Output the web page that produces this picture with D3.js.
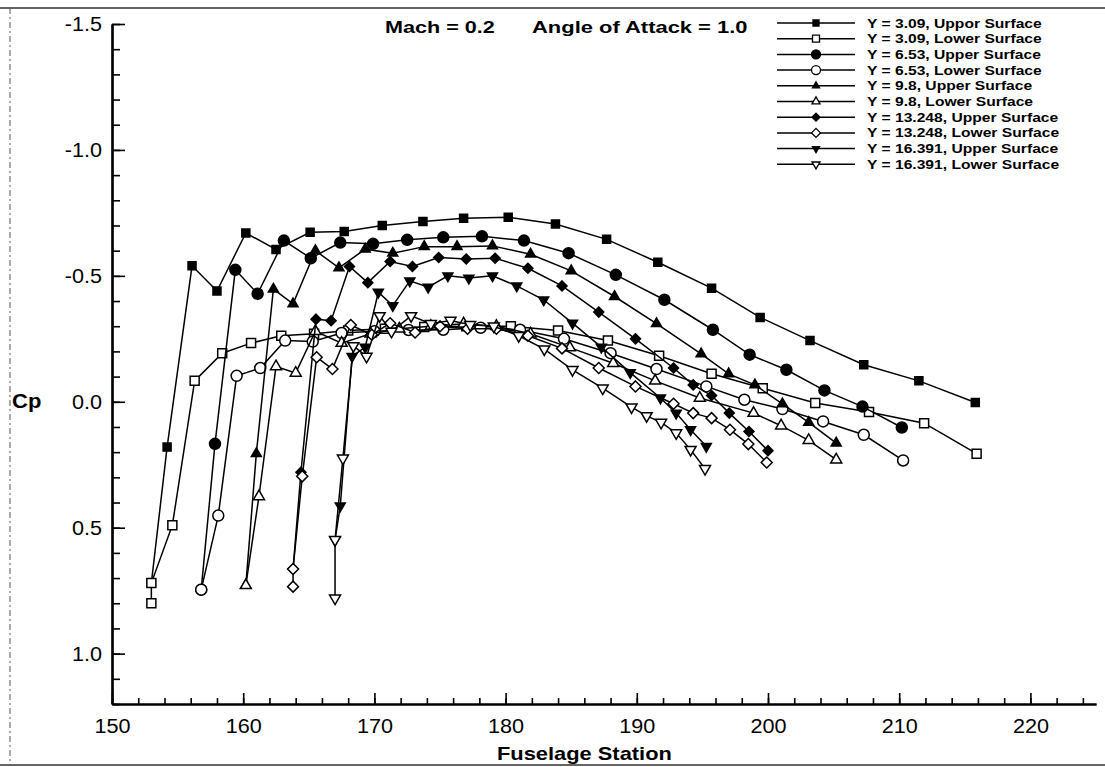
<!DOCTYPE html>
<html><head><meta charset="utf-8">
<script src="https://cdn.jsdelivr.net/npm/d3@7"></script>
<style>body{margin:0;background:#fff}svg{display:block}</style>
</head><body>
<svg id="c" width="1105" height="767"></svg>
<script>
// ---------- data ----------
const xTickValues = [150,160,170,180,190,200,210,220];
const yTickValues = [-1.5,-1.0,-0.5,0.0,0.5,1.0];
const titleParts = ["Mach = 0.2", "Angle of Attack = 1.0"];
const seriesLabels = [
  "Y = 3.09, Uppor Surface","Y = 3.09, Lower Surface",
  "Y = 6.53, Upper Surface","Y = 6.53, Lower Surface",
  "Y = 9.8, Upper Surface","Y = 9.8, Lower Surface",
  "Y = 13.248, Upper Surface","Y = 13.248, Lower Surface",
  "Y = 16.391, Upper Surface","Y = 16.391, Lower Surface"];

const y309Upper = [[153.0,0.72],[154.2,0.18],[156.1,-0.54],[158.0,-0.44],[160.2,-0.67],[162.5,-0.605],[165.1,-0.673],[167.7,-0.676],[170.6,-0.70],[173.7,-0.716],[176.8,-0.729],[180.2,-0.733],[183.8,-0.706],[187.7,-0.645],[191.6,-0.554],[195.7,-0.451],[199.4,-0.335],[203.2,-0.243],[207.3,-0.147],[211.5,-0.083],[215.8,0.003]];
const y309Lower = [[153.0,0.80],[153.0,0.72],[154.6,0.49],[156.3,-0.083],[158.4,-0.193],[160.6,-0.233],[162.9,-0.262],[165.4,-0.27],[168.0,-0.283],[170.8,-0.29],[173.8,-0.297],[177.0,-0.30],[180.4,-0.30],[184.0,-0.283],[187.8,-0.243],[191.7,-0.183],[195.7,-0.111],[199.6,-0.054],[203.6,0.005],[207.7,0.041],[211.9,0.085],[215.9,0.206]];
const y653Upper = [[156.8,0.746],[157.85,0.167],[159.4,-0.524],[161.1,-0.429],[163.1,-0.64],[165.15,-0.57],[167.4,-0.632],[169.9,-0.627],[172.5,-0.643],[175.25,-0.653],[178.2,-0.657],[181.4,-0.64],[184.8,-0.59],[188.4,-0.504],[192.1,-0.405],[195.8,-0.286],[198.6,-0.187],[201.4,-0.127],[204.3,-0.045],[207.2,0.019],[210.2,0.102]];
const y653Lower = [[156.8,0.746],[158.1,0.452],[159.5,-0.103],[161.3,-0.134],[163.2,-0.243],[165.3,-0.239],[167.5,-0.273],[170.0,-0.28],[172.6,-0.285],[175.25,-0.286],[178.1,-0.294],[181.1,-0.286],[184.45,-0.25],[188.0,-0.193],[191.5,-0.13],[195.3,-0.061],[198.2,-0.008],[201.1,0.029],[204.2,0.078],[207.3,0.131],[210.3,0.233]];
const y98Upper = [[160.2,0.729],[161.0,0.206],[162.3,-0.447],[163.8,-0.389],[165.5,-0.60],[167.3,-0.532],[169.3,-0.606],[171.4,-0.59],[173.8,-0.616],[176.3,-0.616],[179.0,-0.619],[181.9,-0.586],[185.0,-0.52],[188.3,-0.418],[191.5,-0.31],[194.9,-0.19],[197.0,-0.111],[199.0,-0.067],[201.1,0.008],[203.1,0.082],[205.2,0.164]];
const y98Lower = [[160.2,0.729],[161.2,0.376],[162.5,-0.14],[164.0,-0.114],[165.5,-0.28],[167.5,-0.233],[169.7,-0.27],[171.9,-0.29],[174.3,-0.30],[176.8,-0.31],[179.3,-0.30],[181.9,-0.27],[184.9,-0.215],[188.2,-0.153],[191.4,-0.083],[194.8,-0.015],[198.9,0.045],[201.0,0.095],[203.1,0.153],[205.2,0.23]];
const y13248Upper = [[163.8,0.664],[164.4,0.28],[165.55,-0.328],[166.7,-0.322],[168.1,-0.537],[169.5,-0.473],[171.2,-0.557],[172.9,-0.537],[174.9,-0.573],[177.0,-0.567],[179.2,-0.57],[181.7,-0.53],[184.3,-0.46],[187.1,-0.356],[189.9,-0.25],[192.8,-0.134],[194.3,-0.067],[195.7,-0.025],[197.05,0.045],[198.55,0.118],[200.0,0.194]];
const y13248Lower = [[163.8,0.734],[163.8,0.664],[164.5,0.296],[165.6,-0.177],[166.8,-0.13],[168.2,-0.305],[169.8,-0.266],[171.2,-0.312],[173.1,-0.275],[175.0,-0.30],[177.1,-0.29],[179.3,-0.29],[181.7,-0.262],[184.3,-0.212],[187.1,-0.134],[189.9,-0.061],[192.8,0.008],[194.3,0.045],[195.7,0.065],[197.1,0.111],[198.5,0.168],[199.9,0.241]];
const y16391Upper = [[167.0,0.548],[167.4,0.413],[168.3,-0.18],[169.3,-0.217],[170.3,-0.435],[171.4,-0.382],[172.7,-0.48],[174.1,-0.455],[175.6,-0.50],[177.2,-0.491],[179.0,-0.50],[180.85,-0.46],[182.9,-0.405],[185.1,-0.312],[187.3,-0.217],[189.5,-0.116],[191.8,-0.015],[193.0,0.045],[194.1,0.111],[195.3,0.177]];
const y16391Lower = [[167.0,0.78],[167.0,0.548],[167.6,0.224],[168.4,-0.222],[169.4,-0.18],[170.4,-0.341],[171.3,-0.279],[172.8,-0.341],[174.3,-0.31],[175.8,-0.323],[177.3,-0.306],[179.1,-0.30],[181.0,-0.262],[182.95,-0.209],[185.1,-0.127],[187.4,-0.054],[189.6,0.021],[190.75,0.056],[191.85,0.082],[193.0,0.124],[194.1,0.19],[195.2,0.266]];

const seriesData = [y309Upper,y309Lower,y653Upper,y653Lower,y98Upper,y98Lower,y13248Upper,y13248Lower,y16391Upper,y16391Lower];

// ---------- symbols ----------
const symSquare = {draw(c,s){const h=s/2;c.moveTo(-h,-h);c.lineTo(h,-h);c.lineTo(h,h);c.lineTo(-h,h);c.closePath();}};
const symCircle = {draw(c,s){const r=s/2;c.moveTo(r,0);c.arc(0,0,r,0,2*Math.PI);c.closePath();}};
const symTriUp = {draw(c,s){const h=s*0.866;c.moveTo(0,-2*h/3);c.lineTo(s/2,h/3);c.lineTo(-s/2,h/3);c.closePath();}};
const symTriDown = {draw(c,s){const h=s*0.866;c.moveTo(0,2*h/3);c.lineTo(s/2,-h/3);c.lineTo(-s/2,-h/3);c.closePath();}};
const symDiamond = {draw(c,s){const h=s/2;c.moveTo(0,-h);c.lineTo(h,0);c.lineTo(0,h);c.lineTo(-h,0);c.closePath();}};

const styles = [
  {sym:symSquare,size:8,fill:"#000"},{sym:symSquare,size:9,fill:"#fff"},
  {sym:symCircle,size:11,fill:"#000"},{sym:symCircle,size:11,fill:"#fff"},
  {sym:symTriUp,size:10,fill:"#000"},{sym:symTriUp,size:11,fill:"#fff"},
  {sym:symDiamond,size:10,fill:"#000"},{sym:symDiamond,size:11,fill:"#fff"},
  {sym:symTriDown,size:10,fill:"#000"},{sym:symTriDown,size:11,fill:"#fff"}];
const legendSizes = [6,7,9,9,7,8,8,9,7,8];

// ---------- layout ----------
const svg = d3.select("#c");
const font = "'Liberation Sans', Arial, Helvetica, sans-serif";
const x = d3.scaleLinear().domain([150,225]).range([112,1096]);
const y = d3.scaleLinear().domain([-1.5,1.2]).range([24,704]);
const widen = (sel, f) => sel.each(function(){
  const w = this.getComputedTextLength();
  d3.select(this).attr("textLength", w*f).attr("lengthAdjust","spacingAndGlyphs");
});

// page border (scanned frame)
svg.append("line").attr("x1",0).attr("x2",1105).attr("y1",8).attr("y2",8).attr("stroke","#333").attr("stroke-width",1.5);
svg.append("line").attr("x1",0).attr("x2",1105).attr("y1",765).attr("y2",765).attr("stroke","#333").attr("stroke-width",1.5);
svg.append("line").attr("x1",10).attr("x2",10).attr("y1",8).attr("y2",765).attr("stroke","#555").attr("stroke-width",1).attr("stroke-dasharray","6,3,2,3");

// axes
const fmtY = v => v.toFixed(1);
const gx = svg.append("g").attr("transform","translate(0,704)");
gx.call(d3.axisBottom(x).tickValues(d3.range(150,225.1,2)).tickSize(-6).tickSizeOuter(0).tickFormat(""));
gx.append("g").call(d3.axisBottom(x).tickValues(xTickValues).tickSize(-11).tickSizeOuter(0).tickPadding(15).tickFormat(d3.format("d")));
const gy = svg.append("g").attr("transform","translate(112,0)");
gy.call(d3.axisLeft(y).tickValues(d3.range(-15,12.1,1).map(v=>v/10)).tickSize(-8).tickSizeOuter(0).tickFormat(""));
gy.append("g").call(d3.axisLeft(y).tickValues(yTickValues).tickSize(-13).tickSizeOuter(0).tickPadding(10).tickFormat(fmtY));
svg.selectAll(".domain").attr("stroke","#000").attr("stroke-width",2.2);
svg.selectAll(".tick line").attr("stroke","#000").attr("stroke-width",1.6);
svg.selectAll(".tick text").attr("font-family",font).attr("font-size",20).attr("fill","#000");
widen(svg.selectAll(".tick text"), 1.08);

// axis titles
svg.append("text").attr("x",497).attr("y",760).attr("font-family",font)
  .attr("font-weight","bold").attr("font-size",19).text("Fuselage Station").call(widen, 1.15);
svg.append("text").attr("x",12).attr("y",408).attr("font-family",font)
  .attr("font-weight","bold").attr("font-size",20).text("Cp").call(widen, 1.1);
// title
svg.append("text").attr("x",385).attr("y",33).attr("font-family",font).attr("font-weight","bold").attr("font-size",17).text(titleParts[0]).call(widen, 1.27);
svg.append("text").attr("x",532).attr("y",33).attr("font-family",font).attr("font-weight","bold").attr("font-size",17).text(titleParts[1]).call(widen, 1.29);

// series
const line = d3.line().x(d=>x(d[0])).y(d=>y(d[1]));
const plot = svg.append("g");
seriesData.forEach((data,i)=>{
  const st = styles[i];
  const g = plot.append("g");
  g.append("path").datum(data).attr("d",line).attr("fill","none").attr("stroke","#000").attr("stroke-width",1.5);
  g.selectAll("path.m").data(data).join("path").attr("class","m")
    .attr("transform",d=>`translate(${x(d[0])},${y(d[1])})`)
    .attr("d",d3.symbol().type(st.sym).size(st.size))
    .attr("fill",st.fill).attr("stroke","#000").attr("stroke-width",1.5);
});

// legend
const lg = svg.append("g");
seriesLabels.forEach((lab,i)=>{
  const yy = 23 + i*15.7;
  const st = styles[i];
  lg.append("line").attr("x1",777).attr("x2",855).attr("y1",yy).attr("y2",yy).attr("stroke","#000").attr("stroke-width",1.5);
  lg.append("path").attr("transform",`translate(816,${yy})`).attr("d",d3.symbol().type(st.sym).size(legendSizes[i]))
    .attr("fill",st.fill).attr("stroke","#000").attr("stroke-width",1.3);
  lg.append("text").attr("x",867).attr("y",yy+4.5).attr("font-family",font).attr("font-weight","bold")
    .attr("font-size",12.5).text(lab).call(widen, 1.25);
});
</script>
</body></html>
